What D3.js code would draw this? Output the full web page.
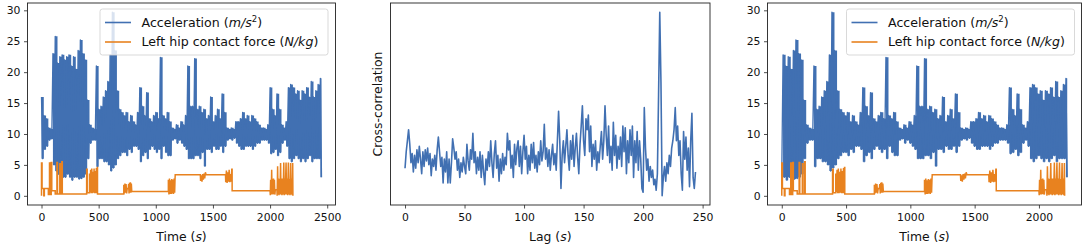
<!DOCTYPE html>
<html><head><meta charset="utf-8">
<script src="https://cdn.jsdelivr.net/npm/d3@7"></script>
<style>
body{margin:0;background:#fff}
text{font-family:"DejaVu Sans",sans-serif;fill:#111}
</style>
</head><body>
<svg id="chart" width="1084" height="246"></svg>
<script>
// ---------------- DATA ----------------
// Acceleration envelope, one entry per 20 s bin starting at t = 0 (panel 1 time base)
const accBinSeconds = 20;
const accHigh = [16,13,12.5,11,10.8,23,25.8,21.5,22.5,22.8,22,22.5,22.8,21,22.5,20.5,23.5,25.2,23,22,
  15.5,11.5,11,10.8,21,14,14.5,16,17,18.5,22.8,29.7,23.5,17,14,13.5,13,13.5,12,13,
  12,11.5,13.5,17.5,14.5,13,16.7,12.5,12,13,13.5,12.5,22.4,13,12.5,13.5,12,11,10.8,11.5,
  11,12,11.5,13,21,14.5,14.5,22.2,14,14.5,13.5,14,12.5,13,16,12,13,14,12.5,16.5,
  13.5,11,10.8,11,10.8,12,12,12.5,13.5,12.5,13,12,13,12.5,12,11.5,11,11,10.8,11.5,
  17.5,14,13,16.5,14,11.5,11,12,17.5,18,17.5,16.5,17,15.5,17,16.5,17.5,16,18.5,16,
  17,18,19];
const accLow = [6,7.5,8,9,9.2,5,4,3.5,3.5,3,3,3.5,3,2.5,3,3,2.7,2.8,3,3.5,
  6,8.5,9,9,4.7,6,6,5.5,5.5,5,4,4.5,5,6,6.5,7,7,6.5,7.5,7,
  8,8,7.5,5.5,6.5,7,6,7.5,8,7.5,7,7.5,6,8,7,6.5,6.5,9,9.2,8.5,
  9,8.5,8,7.5,6,6,6,6.5,6.5,6,7,4.8,7.5,7.5,7,8,7.5,7.5,8,7,
  8,9,9.2,9,9.3,8.5,8,7.5,7.5,8,8,8,7.5,8,8.5,8.5,9,9,9,8.5,
  6.8,7,7.5,6.5,7,8.5,9,8,6,5.5,6,6.5,6,5.5,6,5.5,6,6.5,5.5,6,
  6,6,3];
// Left hip contact force: polyline vertices (time s, N/kg)
const forceTime = [0,0,5,5,20,20,25,25,60,60,70,70,75,75,85,85,90,90,120,120,135,135,140,140,160,160,165,165,178,178,182,182,
  395,395,400,400,420,420,425,430,435,440,445,450,455,460,465,470,475,480,485,488,490,490,
  720,720,725,730,735,740,745,750,760,762,766,770,774,778,782,786,790,792,
  1110,1110,1115,1120,1125,1130,1135,1140,1145,1150,1155,1160,1165,1168,1170,
  1390,1392,1398,1404,1410,1416,1422,1428,1434,1440,
  1610,1612,1618,1624,1630,1636,1642,1648,1654,1660,1665,1668,1668,
  2000,2002,2005,2010,2014,2018,2022,2026,2030,2034,2038,2042,2046,2060,2062,2066,2070,2074,2078,2082,2086,2092,2096,2100,2104,2110,2114,2120,2124,2128,2132,2140,2144,2150,2154,2160,2164,2170,2174,2180,2184,2190,2194,2198,2200];
const forceValue = [0,5.3,5.3,1.2,1.2,0,0,1.2,1.2,0.2,0.2,5.3,5.3,0.2,0.2,5.4,5.4,0.8,0.8,0.3,0.3,5.4,5.4,0.3,0.3,5.2,5.2,0.3,0.3,5.5,5.5,0.3,
  0.3,4.3,4.3,0.5,0.5,3.6,0.6,4.2,0.4,4.4,0.4,3.9,0.5,4.4,0.4,4.0,0.4,4.5,0.4,4.6,4.6,0.3,
  0.3,1.8,0.4,2.0,0.5,1.9,0.4,1.2,1.2,1.9,0.4,2.1,0.5,2.2,0.5,2.0,0.6,0.7,
  0.7,2.6,0.2,2.8,0.3,2.5,0.3,2.7,0.4,2.6,0.3,2.8,0.5,2.5,3.4,
  3.4,2.4,3.3,2.3,3.5,2.6,3.6,2.8,3.8,3.4,
  3.4,2.2,4.1,2.1,3.8,2.3,4.2,2.2,3.5,2.3,4.3,4.3,0.8,
  0.8,0.1,2.6,0.2,4.2,0.2,2.7,0.3,2.8,0.2,2.6,0.2,1.0,1.0,0.0,4.8,0.2,2.8,0.1,2.7,0.2,5.3,0.2,2.8,0.1,2.8,0.2,5.4,0.1,2.8,0.2,5.4,0.2,2.8,0.1,5.4,0.2,2.7,0.1,5.3,0.2,2.8,0.1,5.3,0.0];
// Time shift applied to the acceleration in the aligned (right) panel
const alignShift = 230;
// Cross-correlation for lags 0..244 s (arbitrary units)
const xcorr = [0.15,0.24,0.30,0.36,0.28,0.18,0.23,0.13,0.22,0.15,0.25,0.18,0.27,0.20,0.12,0.24,0.16,0.25,0.19,0.26,
  0.17,0.23,0.11,0.20,0.16,0.22,0.14,0.25,0.32,0.24,0.16,0.21,0.07,0.20,0.13,0.24,0.07,0.20,0.07,0.18,
  0.31,0.26,0.20,0.24,0.14,0.20,0.10,0.18,0.13,0.21,0.16,0.12,0.28,0.19,0.14,0.25,0.20,0.34,0.18,0.24,
  0.12,0.21,0.14,0.24,0.10,0.22,0.13,0.06,0.20,0.14,0.24,0.16,0.30,0.18,0.10,0.23,0.30,0.15,0.22,0.08,
  0.20,0.12,0.23,0.14,0.21,0.17,0.34,0.25,0.30,0.15,0.22,0.10,0.28,0.17,0.26,0.30,0.16,0.27,0.12,0.24,
  0.33,0.20,0.27,0.12,0.22,0.14,0.28,0.18,0.29,0.15,0.22,0.13,0.24,0.17,0.30,0.19,0.24,0.39,0.20,0.26,
  0.16,0.25,0.14,0.22,0.28,0.17,0.23,0.14,0.30,0.46,0.30,0.04,0.22,0.30,0.18,0.27,0.36,0.22,0.14,0.30,
  0.20,0.33,0.16,0.26,0.34,0.21,0.12,0.28,0.38,0.49,0.30,0.22,0.42,0.36,0.44,0.24,0.38,0.16,0.28,0.20,
  0.30,0.14,0.24,0.18,0.27,0.35,0.20,0.30,0.49,0.33,0.22,0.38,0.18,0.27,0.14,0.40,0.22,0.33,0.15,0.27,
  0.20,0.32,0.16,0.38,0.24,0.37,0.12,0.30,0.18,0.36,0.22,0.38,0.10,0.30,0.18,0.35,0.14,0.30,0.20,0.04,
  0.02,0.48,0.26,0.14,0.20,0.08,0.16,0.10,0.14,0.06,0.09,0.03,0.12,0.55,1.00,0.62,0.00,0.10,0.16,0.08,
  0.18,0.12,0.22,0.16,0.26,0.30,0.36,0.48,0.30,0.38,0.22,0.30,0.12,0.03,0.35,0.20,0.32,0.14,0.26,0.05,
  0.30,0.45,0.10,0.04,0.13];
const timeTicksLeft = [0,500,1000,1500,2000,2500];
const timeTicksRight = [0,500,1000,1500,2000];
const accTicks = [0,5,10,15,20,25,30];
const lagTicks = [0,50,100,150,200,250];

// ---------------- STYLE / LAYOUT ----------------
const BLUE = "#4170b2", ORANGE = "#e8821f";
const TOP = 3, BOTTOM = 205;
const TICK_FS = "10.8px", LABEL_FS = "12.4px", LEGEND_FS = "12.6px";
const svg = d3.select("#chart");

function accPoints(shift){
  const pts = [];
  accHigh.forEach((h,i)=>{
    const t = i*accBinSeconds - shift;
    const t2 = t + accBinSeconds/2;
    if (t >= 0) pts.push([t,h]);
    if (t2 >= 0) pts.push([t2,accLow[i]]);
  });
  return pts;
}
function accBins(shift){
  return accHigh.map((h,i)=>({t:i*accBinSeconds - shift, hi:h, lo:accLow[i]}))
    .filter(d=>d.t >= 0);
}
const forcePts = forceTime.map((t,i)=>[t,forceValue[i]]);

function pad(ext){ const d=(ext[1]-ext[0])*0.05; return [ext[0]-d, ext[1]+d]; }

function frame(g, x, y, xTicks, yTicks){
  const [x0,x1] = x.range(), [y0,y1] = y.range();
  const xa = g.append("g").attr("transform",`translate(0,${y0})`)
    .call(d3.axisBottom(x).tickValues(xTicks).tickFormat(d3.format("d")).tickSize(3.5).tickPadding(4.5).tickSizeOuter(0));
  xa.select(".domain").remove();
  xa.selectAll("line").attr("stroke","#222").attr("stroke-width",0.8);
  xa.selectAll("text").attr("font-size",TICK_FS).attr("fill","#111").attr("font-family","DejaVu Sans");
  if (yTicks){
    const ya = g.append("g").attr("transform",`translate(${x0},0)`)
      .call(d3.axisLeft(y).tickValues(yTicks).tickFormat(d3.format("d")).tickSize(3.5).tickPadding(3.5).tickSizeOuter(0));
    ya.select(".domain").remove();
    ya.selectAll("line").attr("stroke","#222").attr("stroke-width",0.8);
    ya.selectAll("text").attr("font-size",TICK_FS).attr("fill","#111").attr("font-family","DejaVu Sans");
  }
}
function box(g, x, y){
  const [x0,x1] = x.range(), [y0,y1] = y.range();
  g.append("rect").attr("x",x0).attr("y",y1).attr("width",x1-x0).attr("height",y0-y1)
    .attr("fill","none").attr("stroke","#222").attr("stroke-width",0.9);
}
function xLabel(g, cx, word){
  const t = g.append("text").attr("x",cx).attr("y",241).attr("text-anchor","middle").attr("font-size",LABEL_FS);
  t.append("tspan").text(word+" (");
  t.append("tspan").attr("font-style","italic").text("s");
  t.append("tspan").text(")");
}
function legend(g, x0, y0, w){
  const h = 46;
  g.append("rect").attr("x",x0).attr("y",y0).attr("width",w).attr("height",h).attr("rx",2.5)
    .attr("fill","#fff").attr("fill-opacity",0.8).attr("stroke","#cfcfcf").attr("stroke-width",0.8);
  const rows = [
    {c:BLUE, parts:[["Acceleration (",""],["m/s","italic"],["2","sup"],[")","after"]]},
    {c:ORANGE, parts:[["Left hip contact force (",""],["N/kg","italic"],[")",""]]}
  ];
  rows.forEach((r,i)=>{
    const yy = y0 + 13.5 + i*19.5;
    g.append("line").attr("x1",x0+5).attr("x2",x0+31).attr("y1",yy).attr("y2",yy)
      .attr("stroke",r.c).attr("stroke-width",1.6);
    const t = g.append("text").attr("x",x0+41.5).attr("y",yy+4.4).attr("font-size",LEGEND_FS);
    r.parts.forEach(([s,k])=>{
      const ts = t.append("tspan").text(s);
      if (k==="italic") ts.attr("font-style","italic");
      if (k==="sup") ts.attr("font-size","8.5px").attr("dy","-5");
      if (k==="after") ts.attr("dy","5");
    });
  });
}

const line = (x,y)=>d3.line().x(d=>x(d[0])).y(d=>y(d[1]));

function drawAcc(g, x, y, shift){
  const bins = accBins(shift);
  // solid body of the dense signal: area between the per-bin extremes
  const area = d3.area().curve(d3.curveStepAfter)
    .x(d=>x(d.t)).y0(d=>y(d.lo)).y1(d=>y(d.hi));
  const last = bins[bins.length-1];
  g.append("path").datum(bins.concat([{t:last.t+accBinSeconds/2, hi:last.hi, lo:last.lo}]))
    .attr("d",area).attr("fill",BLUE).attr("stroke","none");
  g.append("path").datum(accPoints(shift)).attr("d",line(x,y)).attr("fill","none")
    .attr("stroke",BLUE).attr("stroke-width",1.3).attr("stroke-linejoin","round");
}

// ---------- Panel 1 ----------
{
  const g = svg.append("g");
  const acc = accPoints(0);
  const all = acc.concat(forcePts);
  const x = d3.scaleLinear().domain(pad(d3.extent(all,d=>d[0]))).range([27.5,335.5]);
  const y = d3.scaleLinear().domain(pad(d3.extent(all,d=>d[1]))).range([BOTTOM,TOP]);
  drawAcc(g,x,y,0);
  g.append("path").datum(forcePts).attr("d",line(x,y)).attr("fill","none").attr("stroke",ORANGE).attr("stroke-width",1.5);
  frame(g,x,y,timeTicksLeft,accTicks);
  legend(g,100,9,228);
  box(g,x,y);
  xLabel(g,(27.5+335.5)/2,"Time");
}
// ---------- Panel 2 ----------
{
  const g = svg.append("g");
  const pts = xcorr.map((v,i)=>[i,v]);
  const x = d3.scaleLinear().domain(pad(d3.extent(pts,d=>d[0]))).range([390.5,710]);
  const y = d3.scaleLinear().domain(pad(d3.extent(pts,d=>d[1]))).range([BOTTOM,TOP]);
  g.append("path").datum(pts).attr("d",line(x,y)).attr("fill","none").attr("stroke",BLUE).attr("stroke-width",1.6).attr("stroke-linejoin","round");
  frame(g,x,y,lagTicks,null);
  box(g,x,y);
  xLabel(g,(390.5+710)/2,"Lag");
  g.append("text").attr("transform",`translate(382,${(TOP+BOTTOM)/2}) rotate(-90)`)
    .attr("text-anchor","middle").attr("font-size",LABEL_FS).text("Cross-correlation");
}
// ---------- Panel 3 ----------
{
  const g = svg.append("g");
  const acc = accPoints(alignShift);
  const all = acc.concat(forcePts);
  const x = d3.scaleLinear().domain(pad(d3.extent(all,d=>d[0]))).range([767.5,1081.5]);
  const y = d3.scaleLinear().domain(pad(d3.extent(all,d=>d[1]))).range([BOTTOM,TOP]);
  drawAcc(g,x,y,alignShift);
  g.append("path").datum(forcePts).attr("d",line(x,y)).attr("fill","none").attr("stroke",ORANGE).attr("stroke-width",1.5);
  frame(g,x,y,timeTicksRight,accTicks);
  legend(g,846.5,9,228);
  box(g,x,y);
  xLabel(g,(767.5+1081.5)/2,"Time");
}
</script>
</body></html>
